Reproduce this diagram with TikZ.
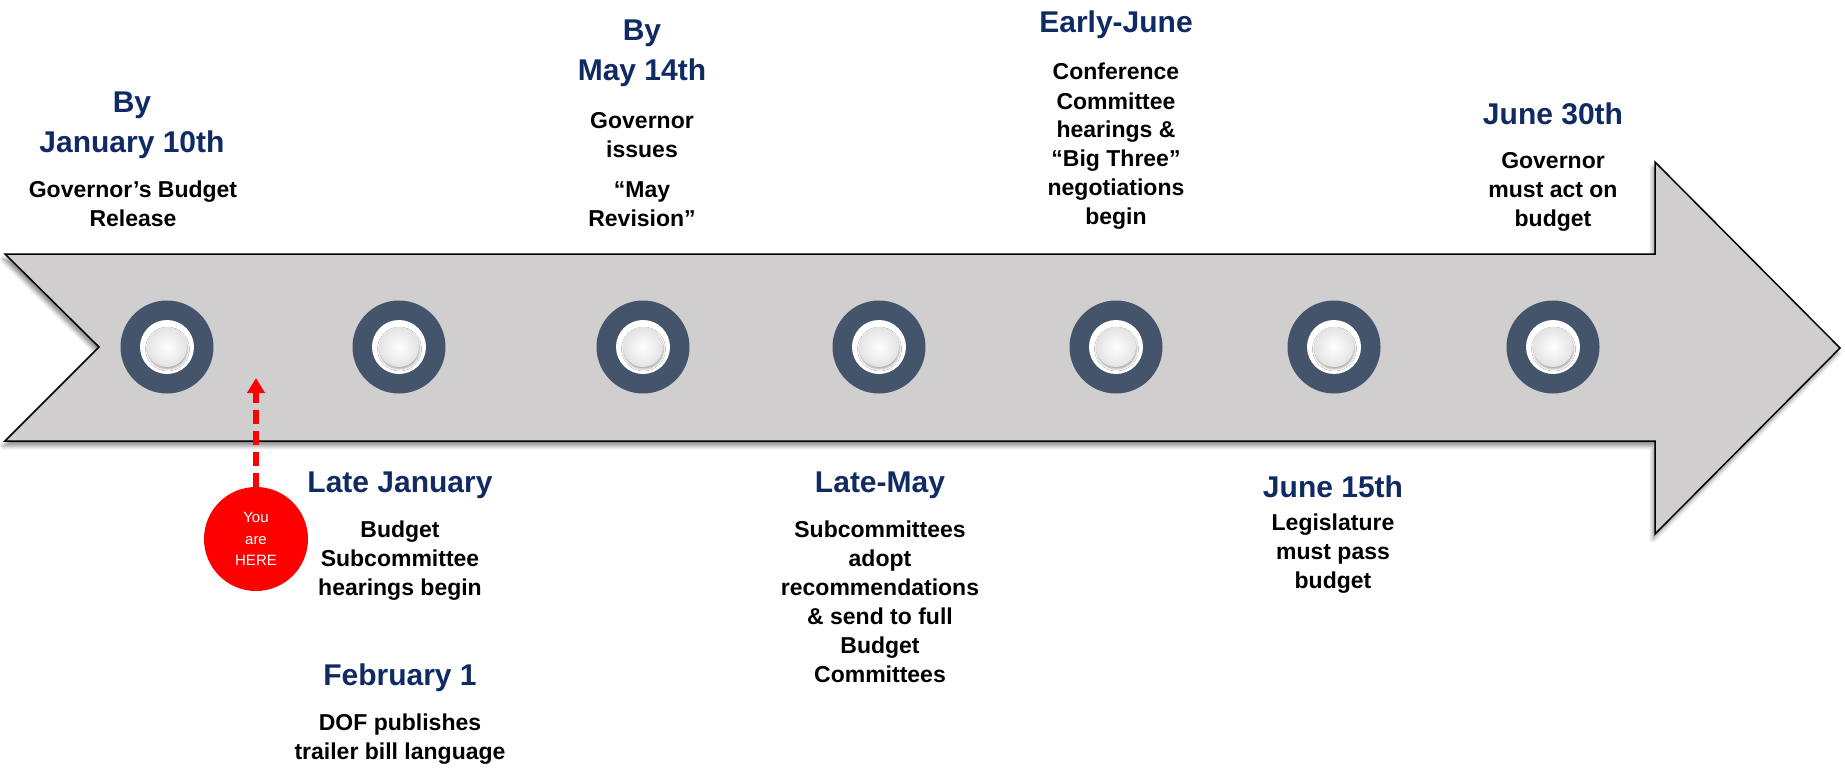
\documentclass[tikz,border=0pt]{standalone}
\usepackage{fontspec}
\setmainfont{Liberation Sans}
\usetikzlibrary{arrows.meta,shadows.blur}
\definecolor{navy}{HTML}{102A64}
\definecolor{ringblue}{HTML}{44546A}
\definecolor{arrowgray}{HTML}{D0CECE}
\definecolor{herered}{HTML}{FF0000}
\newcommand\lines[1]{\begin{tabular}[t]{@{}c@{}}#1\end{tabular}}
\tikzset{
  headtxt/.style={font=\bfseries\fontsize{30}{40}\selectfont, text=navy, inner sep=0pt, anchor=base},
  bodytxt/.style={font=\bfseries\fontsize{23}{29}\selectfont, text=black, inner sep=0pt, anchor=base},
  bigarrow/.style={fill=arrowgray, draw=black, line width=1.5pt, line join=miter,
    blur shadow={shadow xshift=-2pt, shadow yshift=-5pt, shadow blur radius=4pt, shadow opacity=45}},
  ringdot/.style={circle, fill=ringblue, minimum size=93pt, inner sep=0pt},
  whitedot/.style={circle, fill=white, minimum size=54pt, inner sep=0pt},
  buttondot/.style={circle, inner color=white, outer color=gray!22, minimum size=40pt, inner sep=0pt,
    blur shadow={shadow xshift=0.5pt, shadow yshift=-2pt, shadow blur radius=2pt, shadow opacity=35}},
  herecircle/.style={circle, fill=herered, minimum size=104pt, inner sep=0pt, text=white,
    align=center, font=\fontsize{15}{21.5}\selectfont},
  herearrow/.style={draw=herered, line width=5.5pt, dash pattern=on 14pt off 7pt,
    -{Triangle[length=15pt,width=17pt]}},
}
\begin{document}
\begin{tikzpicture}[x=1pt,y=-1pt]
\useasboundingbox (0,0) rectangle (1845,768);
% main arrow
\draw[bigarrow] (5,254) -- (1655,254) -- (1655,162) -- (1840,348) -- (1655,534)
  -- (1655,441) -- (5,441) -- (99,347) -- cycle;
% timeline buttons
\foreach \x [count=\i] in {167,399,643,879,1116,1334,1553} {
  \node[ringdot] (c\i) at (\x,347) {};
  \node[whitedot] (w\i) at (c\i) {};
  \node[buttondot] (b\i) at (c\i) {};
}
% headings
\node[headtxt] (h1) at (132,112) {\lines{By\\January 10th}};
\node[headtxt] (h2) at (400,492) {Late January};
\node[headtxt] (h3) at (400,685) {February 1};
\node[headtxt] (h4) at (642,41) {\lines{By\\May 14th}};
\node[headtxt] (h5) at (880,492) {Late-May};
\node[headtxt] (h6) at (1116,33) {Early-June};
\node[headtxt] (h7) at (1333,497) {June 15th};
\node[headtxt] (h8) at (1553,124) {June 30th};
% bodies
\node[bodytxt] (t1) at (133,197) {\lines{Governor’s Budget\\Release}};
\node[bodytxt] (t2) at (400,537) {\lines{Budget\\Subcommittee\\hearings begin}};
\node[bodytxt] (t3) at (400,730) {\lines{DOF publishes\\trailer bill language}};
\node[bodytxt] (t4a) at (642,128) {\lines{Governor\\issues}};
\node[bodytxt] (t4b) at (642,197) {\lines{“May\\Revision”}};
\node[bodytxt] (t5) at (880,537) {\lines{Subcommittees\\adopt\\recommendations\\\& send to full\\Budget\\Committees}};
\node[bodytxt] (t6) at (1116,80) {\lines{Conference\\Committee\\hearings \&\\“Big Three”\\negotiations\\begin}};
\node[bodytxt] (t7) at (1333,530) {\lines{Legislature\\must pass\\budget}};
\node[bodytxt] (t8) at (1553,168) {\lines{Governor\\must act on\\budget}};
% you are here
\node[herecircle] (here) at (256,539) {You\\are\\HERE};
\coordinate (heretip) at (256,378);
\draw[herearrow] (here.north) -- (heretip);
\end{tikzpicture}
\end{document}
